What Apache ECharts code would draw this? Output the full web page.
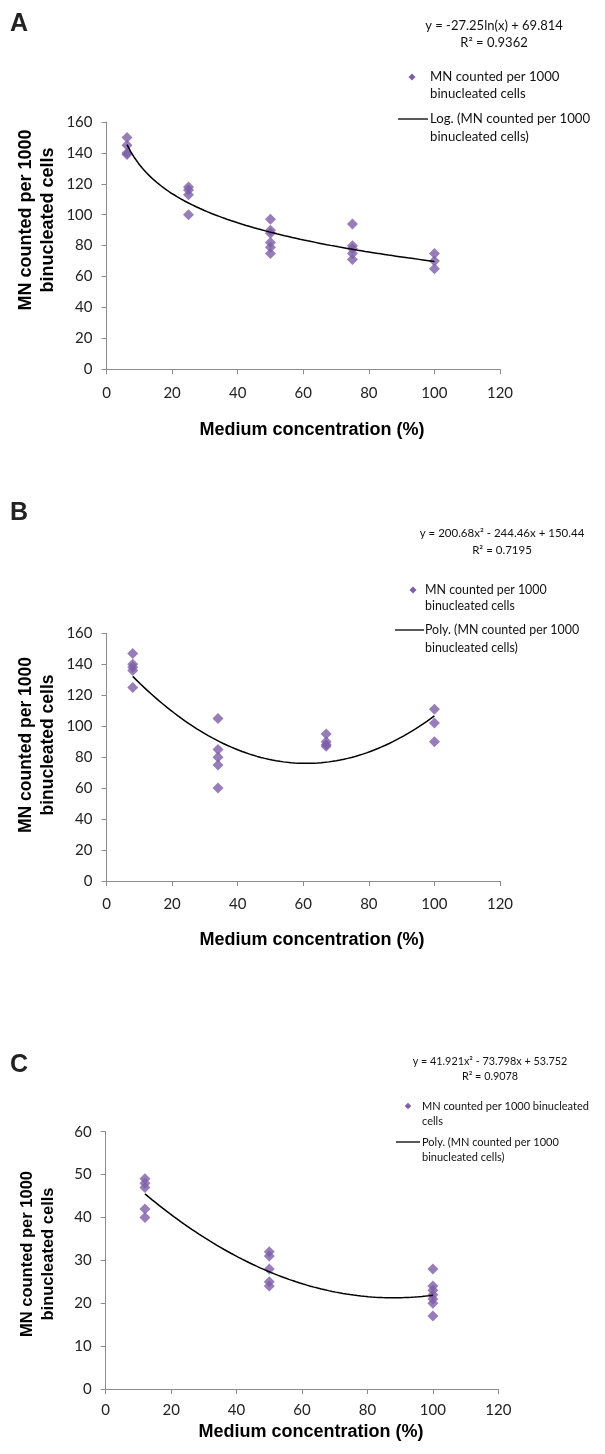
<!DOCTYPE html>
<html><head><meta charset="utf-8">
<script src="https://cdn.jsdelivr.net/npm/echarts@6/dist/echarts.min.js"></script>
<style>html,body{margin:0;padding:0;background:#fff}#c{width:605px;height:1454px}</style>
</head><body><div id="c"></div>
<script>
// ---------- data ----------
const xTicks = [0, 20, 40, 60, 80, 100, 120];

// Panel A
const aConc   = [6.25, 6.25, 6.25, 6.25, 25, 25, 25, 25, 50, 50, 50, 50, 50, 50, 75, 75, 75, 75, 75, 100, 100, 100];
const aValues = [150, 145, 140, 139, 118, 116, 113, 100, 97, 90, 88, 82, 79, 75, 94, 80, 78, 75, 71, 75, 70, 65];
// Log trendline printed on chart: y = -27.25 ln(x) + 69.814 (x as fraction)
const aTrend = [-27.25, 69.814];

// Panel B
const bConc   = [8, 8, 8, 8, 8, 34, 34, 34, 34, 34, 67, 67, 67, 67, 100, 100, 100];
const bValues = [147, 140, 138, 136, 125, 105, 85, 80, 75, 60, 95, 90, 88, 87, 111, 102, 90];
// Poly trendline printed on chart: y = 200.68x² - 244.46x + 150.44
const bTrend = [200.68, -244.46, 150.44];

// Panel C
const cConc   = [12, 12, 12, 12, 12, 50, 50, 50, 50, 50, 100, 100, 100, 100, 100, 100, 100];
const cValues = [49, 48, 47, 42, 40, 32, 31, 28, 25, 24, 28, 24, 23, 22, 21, 20, 17];
// Poly trendline printed on chart: y = 41.921x² - 73.798x + 53.752
const cTrend = [41.921, -73.798, 53.752];

const yTicksAB = [0, 20, 40, 60, 80, 100, 120, 140, 160];
const yTicksC  = [0, 10, 20, 30, 40, 50, 60];

const eqA = ['y = -27.25ln(x) + 69.814', 'R² = 0.9362'];
const eqB = ['y = 200.68x² - 244.46x + 150.44', 'R² = 0.7195'];
const eqC = ['y = 41.921x² - 73.798x + 53.752', 'R² = 0.9078'];
const yTitle = ['MN counted per 1000', 'binucleated cells'];
const xTitle = 'Medium concentration (%)';

// ---------- build ----------
function pts(xs, ys) { return xs.map((x, i) => [x, ys[i]]); }
function curve(fn, x0, x1) {
  const out = [];
  const n = 80;
  for (let i = 0; i <= n; i++) {
    const x = x0 + (x1 - x0) * i / n;
    out.push([x, fn(x / 100)]);
  }
  return out;
}
const logFn = c => f => c[0] * Math.log(f) + c[1];
const polyFn = c => f => c[0] * f * f + c[1] * f + c[2];

const PURPLE = '#7d5ea7';
const tickFont = 'Lato, "Open Sans", sans-serif';
const legFont = 'Lato, "Open Sans", sans-serif';
const boldFont = '"Liberation Sans", Arial, sans-serif';

const grids = [
  {left: 106.5, top: 122, width: 393.5, height: 247.3},
  {left: 106.5, top: 633.3, width: 393.5, height: 247.7},
  {left: 105.7, top: 1131.7, width: 392.6, height: 257.3}
];

function xAxis(i, margin) {
  return {
    type: 'value', gridIndex: i, min: 0, max: 120, interval: 20,
    axisLine: {show: true, lineStyle: {color: '#8c8c8c', width: 1}},
    axisTick: {show: true, length: 5, lineStyle: {color: '#8c8c8c'}},
    splitLine: {show: false},
    axisLabel: {color: '#222', fontSize: 15, fontFamily: tickFont, margin: margin}
  };
}
function yAxis(i, max, interval) {
  return {
    type: 'value', gridIndex: i, min: 0, max: max, interval: interval,
    axisLine: {show: true, lineStyle: {color: '#8c8c8c', width: 1}},
    axisTick: {show: true, length: 5, lineStyle: {color: '#8c8c8c'}},
    splitLine: {show: false},
    axisLabel: {color: '#222', fontSize: 15, fontFamily: tickFont, margin: 14}
  };
}

function scatter(i, data) {
  return {type: 'scatter', xAxisIndex: i, yAxisIndex: i, data: data,
    symbol: 'diamond', symbolSize: 11, itemStyle: {color: PURPLE}, z: 3, silent: true};
}
function trend(i, data) {
  return {type: 'line', xAxisIndex: i, yAxisIndex: i, data: data, showSymbol: false,
    symbol: 'none', smooth: false, lineStyle: {color: '#000', width: 1.5}, z: 4, silent: true};
}

function txt(x, y, s, o) {
  return Object.assign({type: 'text', x: x, y: y, silent: true,
    style: Object.assign({text: s, fill: '#111', font: '12px ' + legFont, textAlign: 'left', textVerticalAlign: 'middle'}, o || {})});
}

const graphic = [];
// Panel labels
graphic.push(txt(10, 24, 'A', {font: 'bold 25px ' + boldFont, fill: '#222'}));
graphic.push(txt(10, 513, 'B', {font: 'bold 25px ' + boldFont, fill: '#222'}));
graphic.push(txt(10, 1065, 'C', {font: 'bold 25px ' + boldFont, fill: '#222'}));

// Y titles (rotated)
function yT(cx1, cx2, cy, size) {
  [[cx1, yTitle[0]], [cx2, yTitle[1]]].forEach(p => {
    graphic.push({type: 'text', x: p[0], y: cy, rotation: Math.PI / 2, silent: true,
      style: {text: p[1], font: 'bold ' + size + 'px ' + boldFont, fill: '#000', textAlign: 'center', textVerticalAlign: 'middle'}});
  });
}
yT(26, 48, 220, 18);
yT(26, 48, 745, 17.5);
yT(27, 48, 1254, 16.5);

// X titles
graphic.push(txt(312, 430, xTitle, {font: 'bold 18px ' + boldFont, fill: '#000', textAlign: 'center'}));
graphic.push(txt(312, 940, xTitle, {font: 'bold 18px ' + boldFont, fill: '#000', textAlign: 'center'}));
graphic.push(txt(311, 1432, xTitle, {font: 'bold 18px ' + boldFont, fill: '#000', textAlign: 'center'}));

// Legends
function legend(eq, eqX, eqY1, eqY2, eqSize, dX, y1, y2, lX0, lX1, y3, y4, tX, size, line1a, line1b, line2a, line2b, dsize) {
  graphic.push(txt(eqX, eqY1, eq[0], {font: eqSize + 'px ' + legFont, textAlign: 'center'}));
  graphic.push(txt(eqX, eqY2, eq[1], {font: eqSize + 'px ' + legFont, textAlign: 'center'}));
  const h = dsize / 2;
  graphic.push({type: 'polygon', silent: true,
    shape: {points: [[dX, y1 - h], [dX + h, y1], [dX, y1 + h], [dX - h, y1]]},
    style: {fill: PURPLE}});
  graphic.push(txt(tX, y1, line1a, {font: size + 'px ' + legFont}));
  graphic.push(txt(tX, y2, line1b, {font: size + 'px ' + legFont}));
  graphic.push({type: 'line', silent: true, shape: {x1: lX0, y1: y3, x2: lX1, y2: y3}, style: {stroke: '#000', lineWidth: 1.3}});
  graphic.push(txt(tX, y3, line2a, {font: size + 'px ' + legFont}));
  graphic.push(txt(tX, y4, line2b, {font: size + 'px ' + legFont}));
}
legend(eqA, 494, 26, 43, 13, 412, 77, 94, 398, 428, 119, 137, 430, 13.2,
  'MN counted per 1000', 'binucleated cells', 'Log. (MN counted per 1000', 'binucleated cells)', 7);
legend(eqB, 502, 533, 550, 11.5, 413, 590, 606, 395, 424, 630, 648, 425, 12.4,
  'MN counted per 1000', 'binucleated cells', 'Poly. (MN counted per 1000', 'binucleated cells)', 7);
legend(eqC, 490, 1062, 1077, 10.8, 408, 1106, 1121, 396, 420, 1142, 1157, 422, 11,
  'MN counted per 1000 binucleated', 'cells', 'Poly. (MN counted per 1000', 'binucleated cells)', 6.5);

const option = {
  animation: false,
  backgroundColor: '#fff',
  grid: grids,
  xAxis: [xAxis(0, 16), xAxis(1, 16), xAxis(2, 14)],
  yAxis: [yAxis(0, 160, 20), yAxis(1, 160, 20), yAxis(2, 60, 10)],
  series: [
    scatter(0, pts(aConc, aValues)),
    trend(0, curve(logFn(aTrend), aConc[0], 100)),
    scatter(1, pts(bConc, bValues)),
    trend(1, curve(polyFn(bTrend), bConc[0], 100)),
    scatter(2, pts(cConc, cValues)),
    trend(2, curve(polyFn(cTrend), cConc[0], 100))
  ],
  graphic: graphic
};
const chart = echarts.init(document.getElementById('c'), null, {renderer: 'canvas'});
chart.setOption(option);
</script></body></html>
